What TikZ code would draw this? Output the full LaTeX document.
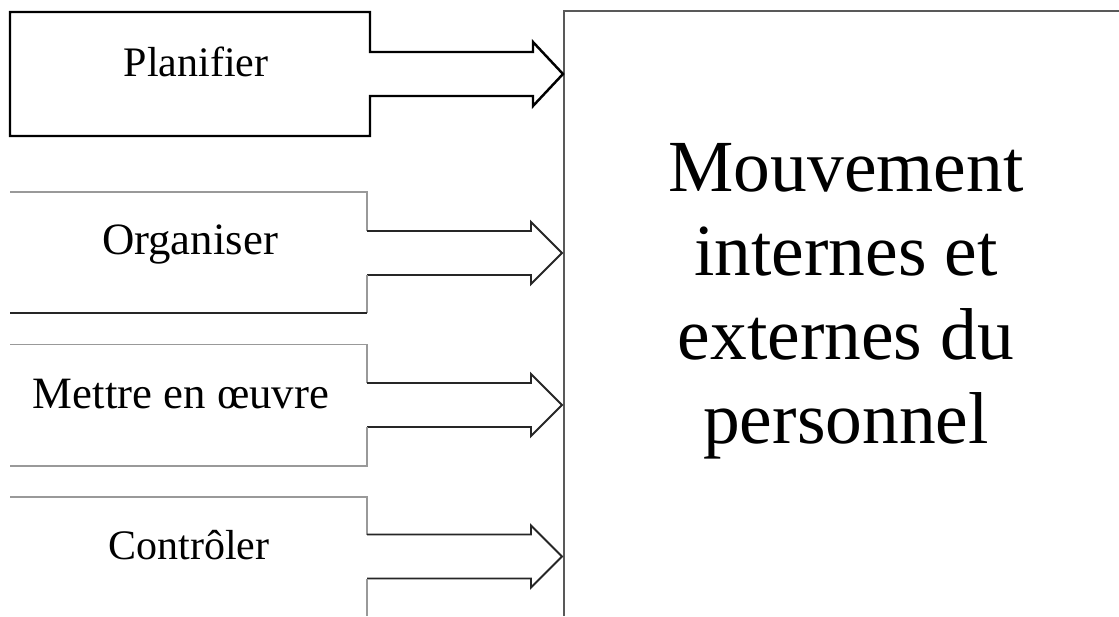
\documentclass[tikz,border=0pt]{standalone}
\usepackage{fontspec}
\setmainfont{Liberation Serif}

\begin{document}
\begin{tikzpicture}[line join=miter,
    planbox/.style={draw=black, line width=1.4pt},
    greyline/.style={draw=black!40, line width=0.85pt},
    arrowline/.style={draw=black!85, line width=1.1pt},
    tache/.style={font=\fontsize{23.9}{28}\selectfont, anchor=base}]
    % cadre de la figure
    \useasboundingbox (0,0) rectangle (22.38,12.32);

    % grand cadre a droite (coupe en bas et a droite)
    \draw[black!65, line width=1.1pt] (11.28,0) -- (11.28,12.1) -- (22.38,12.1);
    \node[font=\fontsize{41.8}{47.8}\selectfont, align=center] (mvt) at (16.92,6.3)
        {Mouvement\\internes et\\externes du\\personnel};

    % Planifier : cadre ferme avec sa fleche
    \draw[planbox] (7.4,10.4) -- (7.4,9.6) -- (0.2,9.6) -- (0.2,12.08) -- (7.4,12.08)
        -- (7.4,11.28) -- (10.66,11.28) -- (10.66,11.48) -- (11.26,10.84)
        -- (10.66,10.2) -- (10.66,10.4) -- cycle;
    \node[tache] (plan) at (3.92,10.78) {Planifier};

    % Organiser
    \draw[greyline] (0.2,8.48) -- (7.34,8.48) -- (7.34,7.70);
    \draw[arrowline] (7.34,7.70) -- (10.62,7.70) -- (10.62,7.88) -- (11.24,7.26)
        -- (10.62,6.64) -- (10.62,6.82) -- (7.34,6.82);
    \draw[greyline] (7.34,6.82) -- (7.34,6.06);
    \draw[arrowline] (7.34,6.06) -- (0.2,6.06);
    \node[tache, font=\fontsize{25.5}{30}\selectfont] (org) at (3.8,7.22) {Organiser};

    % Mettre en oeuvre
    \draw[greyline] (0.2,5.43) -- (7.34,5.43) -- (7.34,4.66);
    \draw[arrowline] (7.34,4.66) -- (10.62,4.66) -- (10.62,4.84) -- (11.24,4.22)
        -- (10.62,3.60) -- (10.62,3.78) -- (7.34,3.78);
    \draw[greyline] (7.34,3.78) -- (7.34,3.0) -- (0.2,3.0);
    \node[tache, font=\fontsize{25.5}{30}\selectfont] (mettre) at (3.62,4.16) {Mettre en œuvre};

    % Controler (le bas sort du cadre)
    \draw[greyline] (0.2,2.38) -- (7.34,2.38) -- (7.34,1.63);
    \draw[arrowline] (7.34,1.63) -- (10.62,1.63) -- (10.62,1.81) -- (11.24,1.19)
        -- (10.62,0.57) -- (10.62,0.75) -- (7.34,0.75);
    \draw[greyline] (7.34,0.75) -- (7.34,0);
    \node[tache] (ctrl) at (3.78,1.14) {Contrôler};
\end{tikzpicture}
\end{document}
